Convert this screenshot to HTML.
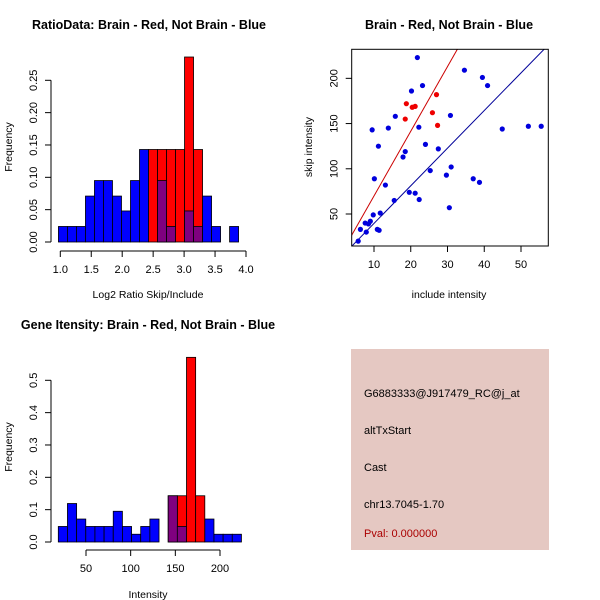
<!DOCTYPE html>
<html><head><meta charset="utf-8"><style>body{margin:0;background:#fff}svg{display:block;font-family:"Liberation Sans",Arial,sans-serif}</style></head>
<body>
<svg id="c" width="600" height="600" xmlns="http://www.w3.org/2000/svg"></svg>
<script>
// ---- Panel 1: ratio histogram ----
const ratioBinStart = 0.97;
const ratioBinWidth = 0.1455;
const ratioBlue = [0.024,0.024,0.024,0.071,0.095,0.095,0.071,0.048,0.095,0.143,0,0.095,0.024,0,0.048,0.024,0.071,0.024,0,0.024];
const ratioRed  = [0,0,0,0,0,0,0,0,0,0,0.143,0.143,0.143,0.143,0.286,0.143,0,0,0,0];
const ratioXTicks = [1.0,1.5,2.0,2.5,3.0,3.5,4.0];
const ratioYTicks = [0.00,0.05,0.10,0.15,0.20,0.25];
// ---- Panel 2: scatter ----
const blueX = [21.8,34.6,39.5,40.9,23.2,20.2,30.8,15.8,9.5,13.9,22.2,52.0,55.5,44.9,11.2,24.0,27.5,18.5,17.9,31.0,25.3,29.7,10.1,37.0,38.7,13.1,19.6,21.2,22.3,15.5,30.5,11.7,9.8,9.0,7.6,8.5,6.3,10.9,11.4,7.9,5.7];
const blueY = [223,209,201,192,192,186,159,158,143,145,146,147,147,144,125,127,122,119,113,102,98,93,89,89,85,82,74,73,66,65,57,51,49,42,40,39,33,33,32,30,20];
const redX = [18.8,27.0,20.4,21.2,18.5,25.9,27.3];
const redY = [172,182,168,169,155,162,148];
const redLine = [-1.5, 7.15];   // intercept, slope
const blueLine = [-2.0, 4.16];
const scatXTicks = [10,20,30,40,50];
const scatYTicks = [50,100,150,200];
// ---- Panel 3: intensity histogram ----
const intBinStart = 19;
const intBinWidth = 10.25;
const intBlue = [0.048,0.119,0.071,0.048,0.048,0.048,0.095,0.048,0.024,0.048,0.071,0,0.143,0.048,0,0,0.071,0.024,0.024,0.024];
const intRed  = [0,0,0,0,0,0,0,0,0,0,0,0,0.143,0.143,0.571,0.143,0,0,0,0];
const intXTicks = [50,100,150,200];
const intYTicks = [0.0,0.1,0.2,0.3,0.4,0.5];

const svg = document.getElementById('c');
const NS = 'http://www.w3.org/2000/svg';
function mk(tag, attrs, parent) {
  const e = document.createElementNS(NS, tag);
  for (const k in attrs) e.setAttribute(k, attrs[k]);
  (parent || svg).appendChild(e);
  return e;
}
function txt(x, y, s, size, extra) {
  const t = mk('text', Object.assign({x: x, y: y, 'font-size': size, 'text-anchor': 'middle', fill: '#000'}, extra || {}));
  t.textContent = s;
  return t;
}

function hist(g, bs, bw, blue, red, xs, ys) {
  red.forEach((v, i) => {
    if (v <= 0) return;
    const r = mk('rect', {x: xs(bs + i*bw), y: ys(v), width: xs(bs+(i+1)*bw)-xs(bs+i*bw), height: ys(0)-ys(v), fill: '#ff0000', stroke: '#000', 'stroke-width': 0.8}, g);
    
    
  });
  blue.forEach((v, i) => {
    if (v <= 0) return;
    const r = mk('rect', {x: xs(bs + i*bw), y: ys(v), width: xs(bs+(i+1)*bw)-xs(bs+i*bw), height: ys(0)-ys(v), fill: red[i] > 0 ? '#7f007f' : '#0000ff', stroke: '#000', 'stroke-width': 0.8}, g);
    
    
  });
}
function xAxis(g, ticks, xs, y, fmt) {
  mk('line', {x1: xs(ticks[0]), x2: xs(ticks[ticks.length-1]), y1: y, y2: y, stroke: '#000'}, g);
  ticks.forEach(t => {
    mk('line', {x1: xs(t), x2: xs(t), y1: y, y2: y+6, stroke: '#000'}, g);
    const l = txt(xs(t), y+22, fmt(t), 11, {});
    
    
  });
}
function yAxis(g, ticks, ys, x, fmt) {
  mk('line', {x1: x, x2: x, y1: ys(ticks[0]), y2: ys(ticks[ticks.length-1]), stroke: '#000'}, g);
  ticks.forEach(t => {
    mk('line', {x1: x-6, x2: x, y1: ys(t), y2: ys(t), stroke: '#000'}, g);
    const l = txt(x-14, ys(t), fmt(t), 11, {transform: 'rotate(-90 ' + (x-14) + ' ' + ys(t) + ')'});
    
    
  });
}

// Panel 1
{
  const g = mk('g', {});
  
  
  const xs = v => 60.3 + (v - 1) * 61.9;
  const ys = v => 242 - v * 646.8;
  hist(g, ratioBinStart, ratioBinWidth, ratioBlue, ratioRed, xs, ys);
  xAxis(g, ratioXTicks, xs, 251, t => t.toFixed(1));
  yAxis(g, ratioYTicks, ys, 51, t => t.toFixed(2));
  const t = txt(149, 29, 'RatioData: Brain - Red, Not Brain - Blue', 12.5, {'font-weight': 'bold'});
   
  const xl = txt(148, 298, 'Log2 Ratio Skip/Include', 10.5);
   
  const yl = txt(12, 147, 'Frequency', 10.5, {transform: 'rotate(-90 12 147)'});
   
}
// Panel 2
{
  const g = mk('g', {});
  
  
  const xs = v => 374 + (v - 10) * 3.675;
  const ys = v => 214 - (v - 50) * 0.9044;
  const L = 351.7, R = 548.3, T = 49.3, B = 246;
  const cp = mk('clipPath', {id: 'clip2'}, g);
  mk('rect', {x: L, y: T, width: R-L, height: B-T}, cp);
  const x0 = 3.9, x1 = 56.6;
  const rl = mk('line', {x1: xs(x0), y1: ys(redLine[0]+redLine[1]*x0), x2: xs(x1), y2: ys(redLine[0]+redLine[1]*x1), stroke: '#cc0000', 'clip-path': 'url(#clip2)'}, g);
   
  const bl = mk('line', {x1: xs(x0), y1: ys(blueLine[0]+blueLine[1]*x0), x2: xs(x1), y2: ys(blueLine[0]+blueLine[1]*x1), stroke: '#000099', 'clip-path': 'url(#clip2)'}, g);
   
  blueX.forEach((v, i) => {
    const c = mk('circle', {cx: xs(v), cy: ys(blueY[i]), r: 2.6, fill: '#0000dd'}, g);
     
  });
  redX.forEach((v, i) => {
    const c = mk('circle', {cx: xs(v), cy: ys(redY[i]), r: 2.6, fill: '#ee0000'}, g);
     
  });
  mk('rect', {x: L, y: T, width: R-L, height: B-T, fill: 'none', stroke: '#000'}, g);
  scatXTicks.forEach(t => {
    mk('line', {x1: xs(t), x2: xs(t), y1: B, y2: B+6, stroke: '#000'}, g);
    const l = txt(xs(t), B+22, String(t), 11);
     
  });
  scatYTicks.forEach(t => {
    mk('line', {x1: L-6, x2: L, y1: ys(t), y2: ys(t), stroke: '#000'}, g);
    const l = txt(L-14, ys(t), String(t), 11, {transform: 'rotate(-90 ' + (L-14) + ' ' + ys(t) + ')'});
     
  });
  const t = txt(449, 29, 'Brain - Red, Not Brain - Blue', 12.5, {'font-weight': 'bold'});
   
  const xl = txt(449, 298, 'include intensity', 10.5);
   
  const yl = txt(312, 147, 'skip intensity', 10.5, {transform: 'rotate(-90 312 147)'});
   
}
// Panel 3
{
  const g = mk('g', {});
  
  
  const xs = v => 86 + (v - 50) * 0.8933;
  const ys = v => 542 - v * 323.4;
  hist(g, intBinStart, intBinWidth, intBlue, intRed, xs, ys);
  xAxis(g, intXTicks, xs, 550, t => String(t));
  yAxis(g, intYTicks, ys, 51, t => t.toFixed(1));
  const t = txt(148, 329, 'Gene Itensity: Brain - Red, Not Brain - Blue', 12.5, {'font-weight': 'bold'});
   
  const xl = txt(148, 598, 'Intensity', 10.5);
   
  const yl = txt(12, 447, 'Frequency', 10.5, {transform: 'rotate(-90 12 447)'});
   
}
// Panel 4
{
  const g = mk('g', {});
  
  
  mk('rect', {x: 351, y: 349, width: 198, height: 201, fill: '#e5c8c2'}, g);
  const lines = [['G6883333@J917479_RC@j_at', 397, '#000'], ['altTxStart', 434, '#000'], ['Cast', 471, '#000'], ['chr13.7045-1.70', 508, '#000'], ['Pval: 0.000000', 537, '#aa0000']];
  lines.forEach((l, i) => {
    const t = txt(364, l[1], l[0], 11, {'text-anchor': 'start', fill: l[2]});
    
    
  });
}
</script>
</body></html>
